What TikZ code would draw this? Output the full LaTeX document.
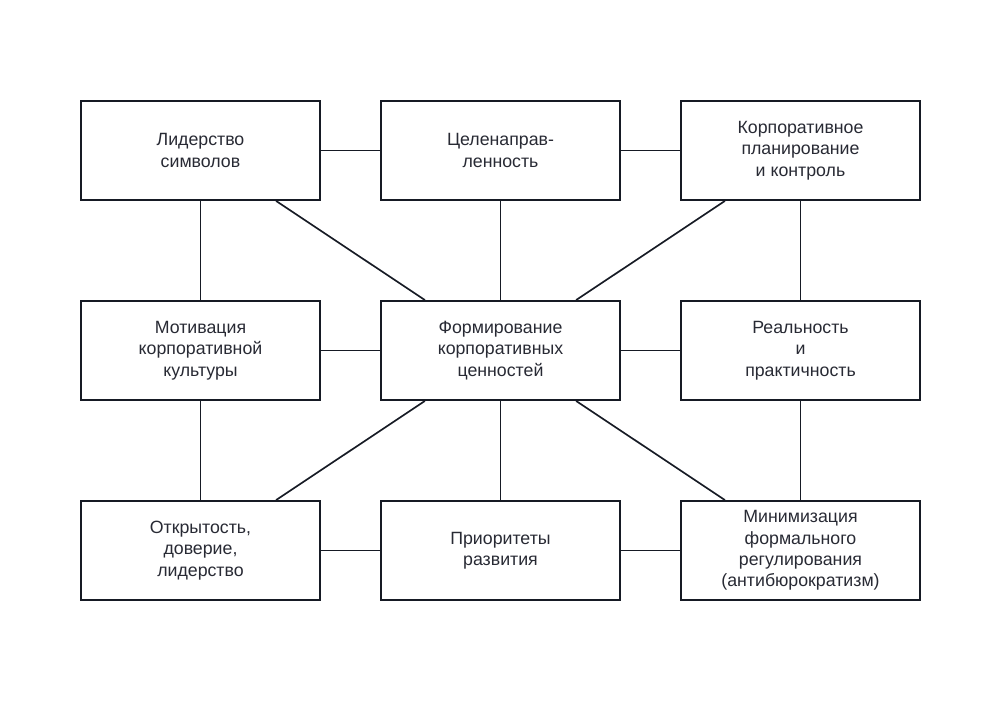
\documentclass[tikz,border=0pt]{standalone}
\usepackage{fontspec}
\setmainfont{Liberation Sans}
\usepackage{tikz}
\usetikzlibrary{positioning}
\definecolor{inkline}{RGB}{22,26,36}
\definecolor{inktext}{RGB}{40,42,52}
\tikzset{
  box/.style={draw=inkline, line width=1.1pt, fill=white, minimum width=4.78cm,
    minimum height=1.98cm, align=center, text=inktext,
    font=\fontsize{10.1}{12.2}\selectfont},
  link/.style={draw=inkline, line width=0.95pt},
}

\begin{document}
\begin{tikzpicture}[x=0.02cm,y=-0.02cm]
  \useasboundingbox (0,0) rectangle (1000,700);
  % row 1
  \node[box] (lead) at (200.5,150.5) {Лидерство\\символов};
  \node[box] (goal) at (500.5,150.5) {Целенаправ-\\ленность};
  \node[box] (plan) at (800.5,150.5) {Корпоративное\\планирование\\и контроль};
  % row 2
  \node[box] (motiv) at (200.5,350.5) {Мотивация\\корпоративной\\культуры};
  \node[box] (core) at (500.5,350.5) {Формирование\\корпоративных\\ценностей};
  \node[box] (real) at (800.5,350.5) {Реальность\\и\\практичность};
  % row 3
  \node[box] (open) at (200.5,550.5) {Открытость,\\доверие,\\лидерство};
  \node[box] (prio) at (500.5,550.5) {Приоритеты\\развития};
  \node[box] (mini) at (800.5,550.5) {Минимизация\\формального\\регулирования\\(антибюрократизм)};

  % connectors
  \draw[link] (lead) -- (goal);
  \draw[link] (goal) -- (plan);
  \draw[link] (motiv) -- (core);
  \draw[link] (core) -- (real);
  \draw[link] (open) -- (prio);
  \draw[link] (prio) -- (mini);
  \draw[link] (lead) -- (motiv);
  \draw[link] (motiv) -- (open);
  \draw[link] (plan) -- (real);
  \draw[link] (real) -- (mini);
  \foreach \n in {lead,goal,plan,open,prio,mini}
    \draw[link] (core) -- (\n);
\end{tikzpicture}
\end{document}
